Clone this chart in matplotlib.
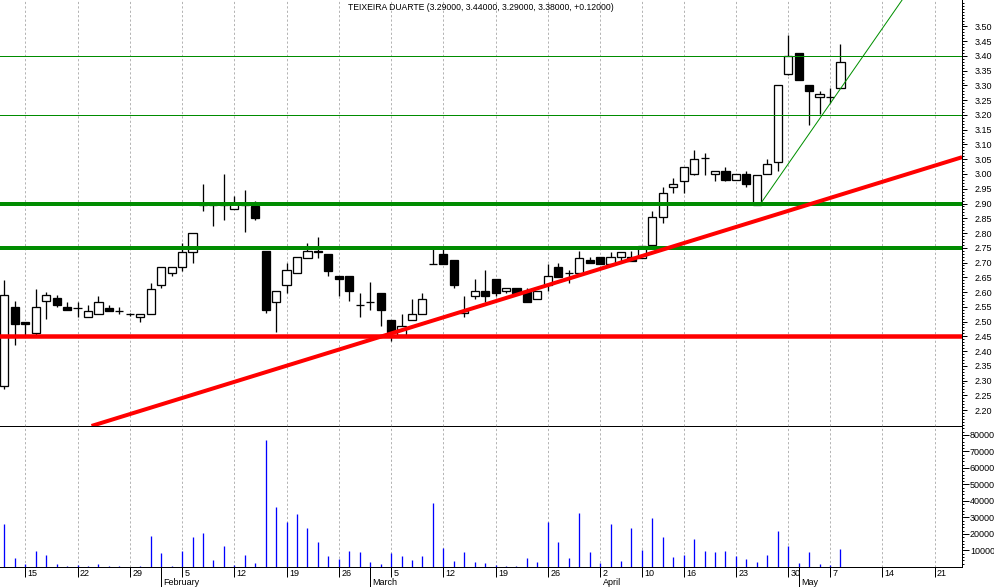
import matplotlib
matplotlib.use('Agg')
import matplotlib.pyplot as plt
import numpy as np
import pandas as pd
from matplotlib.patches import Rectangle
from matplotlib.ticker import FixedLocator, NullFormatter

plt.rcParams['font.family'] = ['Liberation Sans', 'DejaVu Sans']

# ---------------- data ----------------
title = "TEIXEIRA DUARTE (3.29000, 3.44000, 3.29000, 3.38000, +0.12000)"
first_day = '2007-01-11'
axis_end = '2007-05-23'
holidays = ['2007-04-06', '2007-04-09', '2007-05-01']

opens = [2.28, 2.55, 2.50, 2.46, 2.57, 2.58, 2.55, 2.545, 2.515, 2.525,
         2.545, 2.535, 2.525, 2.515, 2.525, 2.625, 2.665, 2.685, 2.735, 2.90,
         2.895, 2.895, 2.88, 2.90, 2.89, 2.74, 2.565, 2.625, 2.665, 2.715,
         2.74, 2.73, 2.655, 2.655, 2.555, 2.565, 2.595, 2.505, 2.455, 2.505,
         2.525, 2.695, 2.73, 2.71, 2.53, 2.585, 2.605, 2.645, 2.605, 2.615,
         2.605, 2.575, 2.625, 2.685, 2.665, 2.665, 2.71, 2.72, 2.695, 2.72,
         2.72, 2.715, 2.76, 2.855, 2.955, 2.975, 3.00, 3.055, 3.00, 3.01,
         2.98, 3.00, 2.895, 3.00, 3.04, 3.34, 3.41, 3.30, 3.26, 3.26, 3.29]
highs = [2.64, 2.57, 2.50, 2.61, 2.60, 2.59, 2.565, 2.565, 2.555, 2.585,
         2.555, 2.55, 2.53, 2.525, 2.63, 2.685, 2.685, 2.765, 2.80, 2.965,
         2.90, 3.00, 2.925, 2.945, 2.91, 2.74, 2.605, 2.70, 2.72, 2.765,
         2.785, 2.73, 2.655, 2.655, 2.595, 2.635, 2.595, 2.505, 2.525, 2.575,
         2.595, 2.755, 2.755, 2.71, 2.585, 2.645, 2.675, 2.645, 2.615, 2.615,
         2.615, 2.605, 2.695, 2.70, 2.675, 2.74, 2.72, 2.72, 2.735, 2.735,
         2.74, 2.755, 2.875, 2.955, 2.985, 3.025, 3.08, 3.07, 3.01, 3.025,
         3.00, 3.01, 2.995, 3.05, 3.30, 3.47, 3.41, 3.30, 3.28, 3.29, 3.44]
lows = [2.27, 2.42, 2.45, 2.45, 2.51, 2.55, 2.54, 2.515, 2.515, 2.525,
        2.535, 2.525, 2.52, 2.50, 2.525, 2.615, 2.655, 2.67, 2.70, 2.875,
        2.825, 2.845, 2.88, 2.805, 2.845, 2.53, 2.465, 2.595, 2.665, 2.715,
        2.715, 2.655, 2.585, 2.57, 2.515, 2.54, 2.485, 2.435, 2.455, 2.505,
        2.525, 2.695, 2.695, 2.615, 2.515, 2.575, 2.565, 2.585, 2.595, 2.595,
        2.565, 2.575, 2.605, 2.65, 2.63, 2.665, 2.70, 2.695, 2.695, 2.705,
        2.705, 2.715, 2.75, 2.835, 2.935, 2.935, 2.995, 2.995, 2.975, 2.975,
        2.98, 2.955, 2.895, 3.00, 3.01, 3.335, 3.32, 3.165, 3.205, 3.24, 3.29]
closes = [2.59, 2.49, 2.49, 2.55, 2.59, 2.555, 2.54, 2.545, 2.535, 2.565,
          2.535, 2.535, 2.525, 2.525, 2.61, 2.685, 2.685, 2.735, 2.80, 2.895,
          2.895, 2.895, 2.90, 2.895, 2.85, 2.54, 2.605, 2.675, 2.72, 2.74,
          2.735, 2.67, 2.645, 2.605, 2.555, 2.565, 2.54, 2.465, 2.485, 2.525,
          2.575, 2.695, 2.695, 2.625, 2.535, 2.605, 2.585, 2.595, 2.615, 2.595,
          2.565, 2.605, 2.655, 2.65, 2.665, 2.715, 2.70, 2.695, 2.72, 2.735,
          2.705, 2.755, 2.855, 2.935, 2.965, 3.025, 3.05, 3.055, 3.01, 2.98,
          3.00, 2.965, 2.995, 3.035, 3.30, 3.40, 3.32, 3.28, 3.27, 3.26, 3.38]
volumes = [25900, 5300, 1600, 9500, 7100, 1600, 400, 1000, 400, 1600,
           400, 400, 200, 400, 18600, 8300, 400, 9500, 18000, 20400,
           4000, 12500, 1200, 7100, 2200, 77200, 36200, 27100, 31900, 23500,
           15000, 6500, 4700, 9500, 8900, 2800, 1600, 8300, 6500, 4000,
           6500, 38600, 11300, 3400, 8900, 2800, 2200, 1000, 400, 400,
           5300, 2800, 27100, 15000, 5300, 32500, 8900, 2200, 25900, 3400,
           23500, 10100, 29500, 18000, 5900, 7100, 16800, 9500, 8900, 9500,
           6500, 4700, 2800, 7100, 21600, 12500, 2200, 8900, 1600, 1000,
           10700]

red_levels = [2.45]
green_thick_levels = [2.75, 2.90]
green_thin_levels = [3.20, 3.40]
red_trend = [(8.34, 2.146), (91.64, 3.057)]
green_trend = [(72.37, 2.90), (86.0, 3.595)]

price_ticks = np.round(np.arange(2.20, 3.5001, 0.05), 2)
vol_ticks = [10000, 20000, 30000, 40000, 50000, 60000, 70000, 80000]

# ---------------- derived calendar ----------------
days = pd.bdate_range(first_day, axis_end)
days = days[~days.isin(pd.to_datetime(holidays))]
n = len(opens)
idx = np.arange(n)
week_idx = [i for i in range(1, len(days)) if days[i].isocalendar()[1] != days[i - 1].isocalendar()[1]]
month_idx = [i for i in range(1, len(days)) if days[i].month != days[i - 1].month]

# ---------------- figure ----------------
W, H = 994, 587
fig = plt.figure(figsize=(W / 100, H / 100), dpi=100)
px = 0.72  # one pixel in points

ax = fig.add_axes([0, 1 - 426 / H, 962 / W, 426 / H])
axv = fig.add_axes([0, 1 - 567 / H, 962 / W, (567 - 426) / H], sharex=ax)

xmin, xmax = -0.42, 91.63
ax.set_xlim(xmin, xmax)
ax.set_ylim(2.1458, 3.5898)
axv.set_ylim(0, 85450)

for a in (ax, axv):
    for s in ('top', 'left'):
        a.spines[s].set_visible(False)
    a.spines['right'].set_linewidth(1.0 * px)
    a.spines['bottom'].set_linewidth(1.0 * px)
    a.patch.set_visible(False)
    for w in week_idx:
        a.axvline(w, color='#b4b4b4', lw=1 * px, dashes=(2.2, 2.2), zorder=0)

# candles
body_w = 0.78
for i in idx:
    o, h, l, c = opens[i], highs[i], lows[i], closes[i]
    ax.vlines(i, l, h, color='black', lw=1.3 * px, zorder=2)
    up = c >= o
    bottom = min(o, c)
    height = abs(c - o)
    if height < 0.004:
        ax.hlines(o, i - body_w / 2, i + body_w / 2, color='black', lw=1.3 * px, zorder=3)
    else:
        ax.add_patch(Rectangle((i - body_w / 2, bottom), body_w, height,
                               facecolor='white' if up else 'black',
                               edgecolor='black', lw=1.3 * px, zorder=3))

# level lines
for lv in red_levels:
    ax.axhline(lv, color='#ff0000', lw=4.5 * px, zorder=5)
for lv in green_thick_levels:
    ax.axhline(lv, color='#008c00', lw=4 * px, zorder=5)
for lv in green_thin_levels:
    ax.axhline(lv, color='#008c00', lw=1 * px, zorder=5)

(x0, y0), (x1, y1) = red_trend
ax.plot([x0, x1], [y0, y1], color='#ff0000', lw=4 * px, zorder=5, solid_capstyle='butt')
(x0, y0), (x1, y1) = green_trend
ax.plot([x0, x1], [y0, y1], color='#009000', lw=1 * px, zorder=5)

# price axis
ax.yaxis.tick_right()
ax.set_yticks(price_ticks)
ax.set_yticklabels([f"{v:.2f}" for v in price_ticks])
ax.yaxis.set_minor_locator(FixedLocator(np.round(np.arange(2.15, 3.59, 0.01), 2)))
ax.tick_params(axis='y', which='major', length=5 * px, width=1 * px, pad=8 * px, labelsize=6.5)
ax.tick_params(axis='y', which='minor', length=2.5 * px, width=1 * px)
ax.tick_params(axis='x', which='both', length=0, labelbottom=False)

ax.text(0.5, 1 - 8 / 426, title, transform=ax.transAxes, ha='center', va='center', fontsize=6.2)

# volume
axv.vlines(idx, 0, volumes, color='#0000ff', lw=1.3 * px, zorder=3)
axv.yaxis.tick_right()
axv.set_yticks(vol_ticks)
axv.set_yticklabels([str(v) for v in vol_ticks])
axv.yaxis.set_minor_locator(FixedLocator(np.arange(2000, 85000, 2000)))
axv.tick_params(axis='y', which='major', length=7 * px, width=1 * px, pad=1 * px, labelsize=6.5)
axv.tick_params(axis='y', which='minor', length=2.5 * px, width=1 * px)

axv.set_xticks(week_idx)
axv.set_xticklabels([])
axv.xaxis.set_minor_locator(FixedLocator(month_idx))
axv.xaxis.set_minor_formatter(NullFormatter())
axv.tick_params(axis='x', which='major', length=10 * px, width=1 * px, direction='out')
axv.tick_params(axis='x', which='minor', length=20 * px, width=1 * px, direction='out')

trans = axv.get_xaxis_transform()
for w in week_idx:
    axv.annotate(str(days[w].day), xy=(w, 0), xycoords=trans, xytext=(2.5 * px, -2 * px),
                 textcoords='offset points', ha='left', va='top', fontsize=6.5)
for m in month_idx:
    axv.annotate(days[m].strftime('%B'), xy=(m, 0), xycoords=trans, xytext=(2.5 * px, -11 * px),
                 textcoords='offset points', ha='left', va='top', fontsize=6.5)

fig.savefig('out.png', dpi=100)
